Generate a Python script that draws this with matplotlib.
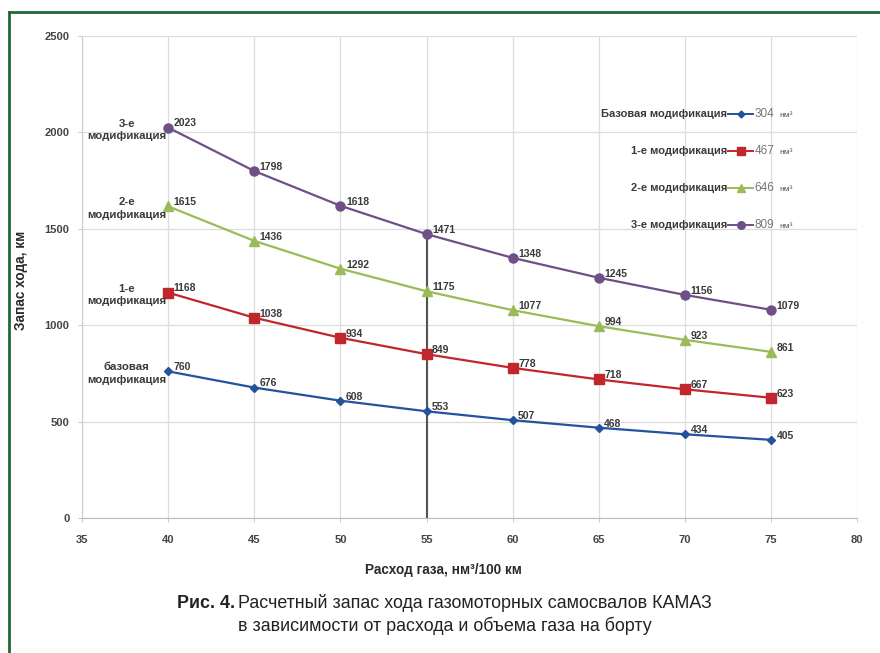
import numpy as np
import matplotlib
matplotlib.use("Agg")
import matplotlib.pyplot as plt
from matplotlib.lines import Line2D

plt.rcParams['font.family'] = ['Liberation Sans', 'DejaVu Sans']

# data
rashod = [40, 45, 50, 55, 60, 65, 70, 75]
baz = [760, 676, 608, 553, 507, 468, 434, 405]
mod1 = [1168, 1038, 934, 849, 778, 718, 667, 623]
mod2 = [1615, 1436, 1292, 1175, 1077, 994, 923, 861]
mod3 = [2023, 1798, 1618, 1471, 1348, 1245, 1156, 1079]
names = ["Базовая модификация", "1-е модификация", "2-е модификация", "3-е модификация"]
left_names = ["базовая\nмодификация", "1-е\nмодификация", "2-е\nмодификация", "3-е\nмодификация"]
obem = [304, 467, 646, 809]
xticks = [35, 40, 45, 50, 55, 60, 65, 70, 75, 80]
yticks = [0, 500, 1000, 1500, 2000, 2500]

series = [baz, mod1, mod2, mod3]
colors = ['#25529c', '#c0262c', '#9bbb59', '#6e4f88']
markers = ['D', 's', '^', 'o']
msizes = [4.5, 6.5, 6.5, 6.5]

fig = plt.figure(figsize=(8.8, 6.53), dpi=100)
ax = fig.add_axes([0.0932, 0.2067, 0.8808, 0.7389])

for ys, c, m, ms in zip(series, colors, markers, msizes):
    ax.plot(rashod, ys, color=c, lw=1.6, marker=m, ms=ms, zorder=3)
    for x, y in zip(rashod, ys):
        ax.annotate(str(y), (x, y), xytext=(4, 3), textcoords='offset points',
                    fontsize=7.5, fontweight='bold', color='#3a3a3a', ha='left', va='center')

# vertical line at 55
i55 = rashod.index(55)
ax.vlines(55, 0, mod3[i55], color='#555555', lw=1.5, zorder=2)

# labels left of first points
for ys, lab in zip(series, left_names):
    ax.text(37.6, ys[0] - 12, lab, ha='center', va='center', fontsize=8.2,
            fontweight='bold', color='#3a3a3a', linespacing=1.35)

# custom legend
leg_y = [0.837, 0.761, 0.684, 0.607]
for k in range(4):
    ty = leg_y[k]
    ax.text(0.832, ty, names[k], transform=ax.transAxes, ha='right', va='center',
            fontsize=8, fontweight='bold', color='#3a3a3a')
    ax.add_line(Line2D([0.834, 0.866], [ty, ty], transform=ax.transAxes, color=colors[k], lw=1.4))
    ax.add_line(Line2D([0.850], [ty], transform=ax.transAxes, color=colors[k],
                       marker=markers[k], ms=msizes[k] - 1, lw=0))
    ax.text(0.868, ty, str(obem[k]), transform=ax.transAxes, ha='left', va='center',
            fontsize=8.5, color='#777777')
    ax.text(0.900, ty - 0.003, "нм³", transform=ax.transAxes, ha='left', va='center',
            fontsize=6, color='#555555')

ax.set_xlim(35, 80)
ax.set_ylim(0, 2500)
ax.set_xticks(xticks)
ax.set_yticks(yticks)
ax.grid(True, color='#dddddd', lw=0.9)
ax.set_axisbelow(True)
for s in ['top', 'right']:
    ax.spines[s].set_visible(False)
ax.spines['left'].set_color('#cccccc')
ax.spines['bottom'].set_color('#bbbbbb')
ax.tick_params(axis='both', colors='#cccccc', labelcolor='#444444', labelsize=8, length=3)
ax.tick_params(axis='x', pad=9)
ax.tick_params(axis='y', pad=6)
for t in ax.get_xticklabels() + ax.get_yticklabels():
    t.set_fontweight('bold')

ax.set_xlabel("Расход газа, нм³/100 км", fontsize=9.8, fontweight='bold', color='#2a2a2a')
ax.xaxis.set_label_coords(0.466, -0.094)
ax.set_ylabel("Запас хода, км", fontsize=9.8, fontweight='bold', color='#2a2a2a')
ax.yaxis.set_label_coords(-0.07, 0.493)

# caption
fig.text(0.267, 1 - 603 / 653, "Рис. 4.", fontsize=12.9, fontweight='bold', color='#222222',
         ha='right', va='center')
fig.text(0.271, 1 - 603 / 653, "Расчетный запас хода газомоторных самосвалов КАМАЗ",
         fontsize=12.9, color='#222222', ha='left', va='center')
fig.text(0.505, 1 - 626 / 653, "в зависимости от расхода и объема газа на борту",
         fontsize=12.9, color='#222222', ha='center', va='center')

# green frame
fig.add_artist(Line2D([9 / 880, 9 / 880], [0, 1 - 12 / 653], transform=fig.transFigure,
                      color='#1d6a34', lw=2))
fig.add_artist(Line2D([9 / 880, 1], [1 - 12 / 653, 1 - 12 / 653], transform=fig.transFigure,
                      color='#1d6a34', lw=2))

fig.savefig("out.png", dpi=100)
